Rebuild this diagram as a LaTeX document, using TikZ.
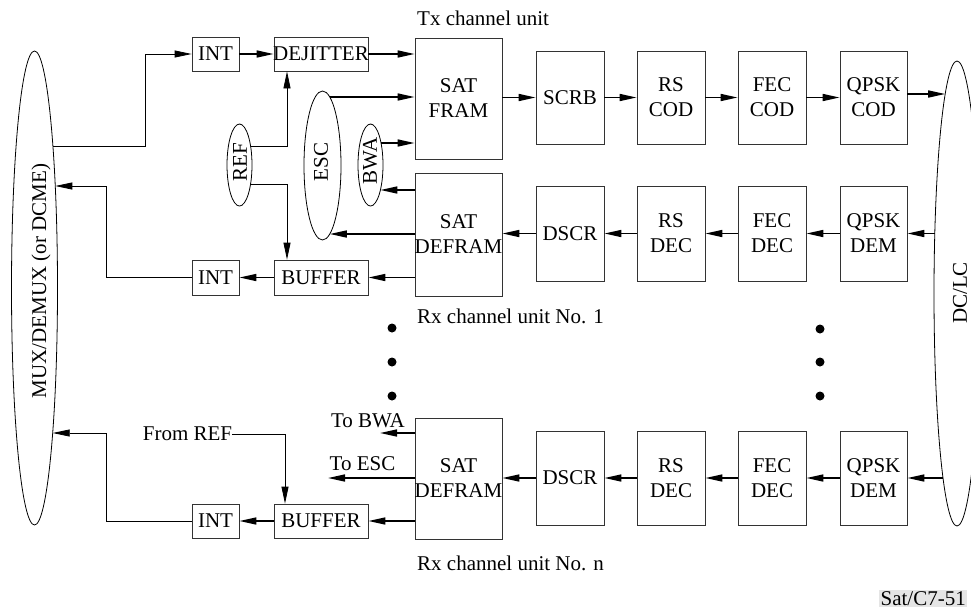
\documentclass[tikz,border=0pt]{standalone}
\usepackage{fontspec}
\setmainfont{Liberation Serif}
\usetikzlibrary{arrows.meta,shapes.geometric}
\begin{document}
\begin{tikzpicture}[x=1pt,y=-1pt,
  font=\fontsize{21}{25}\selectfont,
  box/.style={draw=black!80, line width=0.8pt, inner sep=0pt, align=center},
  ell/.style={draw=black, ellipse, line width=0.8pt, inner sep=0pt},
  txt/.style={inner sep=0pt},
  thk/.style={line width=1.6pt, -{Triangle[length=17pt,width=7pt]}},
  thn/.style={line width=0.8pt, -{Triangle[length=17pt,width=7pt]}},
  dotn/.style={circle, fill=black, inner sep=0pt, minimum size=9pt}]
\useasboundingbox (0,0) rectangle (971,611);

% ellipses
\node[ell, minimum width=46pt, minimum height=474pt] (mux) at (34.5,288) {};
\node[txt, rotate=90] (muxt) at (41,281) {MUX/DEMUX (or DCME)};
\node[ell, minimum width=46pt, minimum height=465pt] (dclc) at (957,293.5) {};
\node[txt, rotate=90] (dclct) at (960,293) {DC/LC};
\node[ell, minimum width=37pt, minimum height=149pt] (esc) at (322.5,165.5) {};
\node[txt, rotate=90] (esct) at (321,162) {ESC};
\node[ell, minimum width=25pt, minimum height=82pt] (bwa) at (370.5,165) {};
\node[txt, rotate=90] (bwat) at (370,161) {BWA};
\node[ell, minimum width=25pt, minimum height=82pt] (ref) at (239.5,165) {};
\node[txt, rotate=90] (reft) at (240,162) {REF};

% Tx row
\node[box, minimum width=47pt, minimum height=34pt] (int1) at (215.5,54) {INT};
\node[box, minimum width=94pt, minimum height=34pt] (dej) at (321,54) {\makebox[0pt]{DEJITTER}};
\node[box, minimum width=87pt, minimum height=121pt] (satf) at (458.5,98.5) {SAT\\FRAM};
\node[box, minimum width=68pt, minimum height=93pt] (scrb) at (570,97.5) {SCRB};
\node[box, minimum width=68pt, minimum height=93pt] (rsc) at (671,97.5) {RS\\COD};
\node[box, minimum width=68pt, minimum height=93pt] (fecc) at (772,97.5) {FEC\\COD};
\node[box, minimum width=67pt, minimum height=93pt] (qpskc) at (873.5,97.5) {QPSK\\COD};

% Rx row 1
\node[box, minimum width=87pt, minimum height=123pt] (satd1) at (458.5,234.5) {SAT\\\makebox[0pt]{DEFRAM}};
\node[box, minimum width=68pt, minimum height=95pt] (dscr1) at (570,233.5) {DSCR};
\node[box, minimum width=68pt, minimum height=95pt] (rsd1) at (671,233.5) {RS\\DEC};
\node[box, minimum width=68pt, minimum height=95pt] (fecd1) at (772,233.5) {FEC\\DEC};
\node[box, minimum width=67pt, minimum height=95pt] (qpskd1) at (873.5,233.5) {QPSK\\DEM};
\node[box, minimum width=94pt, minimum height=35pt] (buf1) at (321,277.5) {BUFFER};
\node[box, minimum width=47pt, minimum height=35pt] (int2) at (215.5,277.5) {INT};

% Rx row n
\node[box, minimum width=87pt, minimum height=121pt] (satdn) at (458.5,478.5) {SAT\\\makebox[0pt]{DEFRAM}};
\node[box, minimum width=68pt, minimum height=94pt] (dscrn) at (570,478) {DSCR};
\node[box, minimum width=68pt, minimum height=94pt] (rsdn) at (671,478) {RS\\DEC};
\node[box, minimum width=68pt, minimum height=94pt] (fecdn) at (772,478) {FEC\\DEC};
\node[box, minimum width=67pt, minimum height=94pt] (qpskdn) at (873.5,478) {QPSK\\DEM};
\node[box, minimum width=94pt, minimum height=34pt] (bufn) at (321,521) {BUFFER};
\node[box, minimum width=47pt, minimum height=34pt] (intn) at (215.5,521) {INT};

% labels
\node[txt, anchor=base west] (tx) at (417,25) {Tx channel unit};
\node[txt, anchor=base west] (rx1) at (417,323) {Rx channel unit No. 1};
\node[txt, anchor=base west] (rxn) at (417,570) {Rx channel unit No. n};
\node[fill=black!10, inner sep=1.5pt, anchor=base east] (satc) at (967.5,605) {Sat/C7-51};
\node[txt] (tobwat) at (368,421) {To BWA};
\node[txt] (toesct) at (362.5,464) {To ESC};
\node[txt] (fromref) at (187.5,434) {From REF};

% dots
\node[dotn] (dl1) at (392,328) {};
\node[dotn] (dl2) at (392,362) {};
\node[dotn] (dl3) at (392,396) {};
\node[dotn] (dr1) at (820,329) {};
\node[dotn] (dr2) at (820,362) {};
\node[dotn] (dr3) at (820,396) {};

% ellipse contact points
\coordinate (m1) at (52.9,146);
\coordinate (m2) at (55.3,186);
\coordinate (m3) at (52.7,433);
\coordinate (d1) at (945.2,94);
\coordinate (d2) at (934.8,233.5);
\coordinate (d3) at (943,478);
\coordinate (e1) at (329.8,97);
\coordinate (e2) at (329.8,234);
\coordinate (b1) at (381,143);
\coordinate (b2) at (380.4,190);
\coordinate (r1) at (250.6,146);
\coordinate (r2) at (250.6,184);
\coordinate (tobwa) at (380,433);
\coordinate (toesc) at (328,478);

% Tx connectors
\draw[thn] (m1) -- ++(92,0) |- (int1.west);
\draw[thk] (int1) -- (dej);
\draw[thk] (dej.east) -- (dej.east -| satf.west);
\draw[thk] (e1) -- (e1 -| satf.west);
\draw[thk] (b1) -- (b1 -| satf.west);
\draw[thk] (satf.east |- scrb.west) -- (scrb.west);
\draw[thk] (scrb) -- (rsc);
\draw[thk] (rsc) -- (fecc);
\draw[thk] (fecc) -- (qpskc);
\draw[thk] (qpskc.east |- d1) -- (d1);
\draw[thn] (r1) -| ([xshift=-34pt]dej.south);
\draw[thn] (r2) -| ([xshift=-34pt]buf1.north);

% Rx 1 connectors
\draw[thk] (d2) -- (d2 -| qpskd1.east);
\draw[thk] (qpskd1) -- (fecd1);
\draw[thk] (fecd1) -- (rsd1);
\draw[thk] (rsd1) -- (dscr1);
\draw[thk] (dscr1.west) -- (dscr1.west -| satd1.east);
\draw[thk] (satd1.west |- b2) -- (b2);
\draw[thk] (satd1.west |- e2) -- (e2);
\draw[thk] (satd1.west |- buf1.east) -- (buf1.east);
\draw[thk] (buf1) -- (int2);
\draw[thn] (int2.west) -- ++(-85,0) |- (m2);

% Rx n connectors
\draw[thk] (d3) -- (d3 -| qpskdn.east);
\draw[thk] (qpskdn) -- (fecdn);
\draw[thk] (fecdn) -- (rsdn);
\draw[thk] (rsdn) -- (dscrn);
\draw[thk] (dscrn.west) -- (dscrn.west -| satdn.east);
\draw[thk] (satdn.west |- tobwa) -- (tobwa);
\draw[thk] (satdn.west |- toesc) -- (toesc);
\draw[thk] (satdn.west |- bufn.east) -- (bufn.east);
\draw[thk] (bufn) -- (intn);
\draw[thn] (intn.west) -- ++(-85,0) |- (m3);
\draw[thn] (fromref.east) -| ([xshift=-36pt]bufn.north);
\end{tikzpicture}
\end{document}
